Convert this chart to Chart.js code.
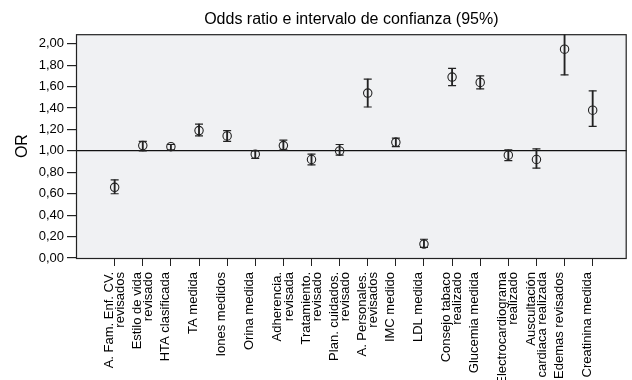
<!DOCTYPE html>
<html lang="es">

<head>
    <meta charset="UTF-8">
    <title>Odds ratio</title>
    <style>
        body { margin: 0; background: #fff; }
    </style>
</head>

<body>
    <canvas id="grafico" width="632" height="380"></canvas>
    <script src="https://cdn.jsdelivr.net/npm/chart.js"></script>
    <script>
        // datos
        const categorias = [
            ['A. Fam. Enf. CV.', 'revisados'],
            ['Estilo de vida', 'revisado'],
            'HTA clasificada',
            'TA medida',
            'Iones medidos',
            'Orina medida',
            ['Adherencia.', 'revisada'],
            ['Tratamiento.', 'revisado'],
            ['Plan. cuidados.', 'revisado'],
            ['A. Personales.', 'revisados'],
            'IMC medido',
            'LDL medida',
            ['Consejo tabaco', 'realizado'],
            'Glucemia medida',
            ['Electrocardiograma', 'realizado'],
            ['Auscultación', 'cardiaca realizada'],
            'Edemas revisados',
            'Creatinina medida'
        ];
        const oddsRatio = [0.66, 1.05, 1.04, 1.19, 1.14, 0.97, 1.05, 0.92, 1.00, 1.54, 1.08, 0.13, 1.69, 1.64, 0.96, 0.92, 1.95, 1.38];
        const icInferior = [0.60, 1.00, 1.01, 1.14, 1.09, 0.93, 1.01, 0.87, 0.96, 1.41, 1.04, 0.10, 1.61, 1.58, 0.91, 0.84, 1.71, 1.23];
        const icSuperior = [0.73, 1.09, 1.06, 1.25, 1.19, 1.00, 1.10, 0.97, 1.06, 1.67, 1.12, 0.175, 1.77, 1.70, 1.01, 1.02, 2.23, 1.56];
        const ticksY = [0, 0.2, 0.4, 0.6, 0.8, 1.0, 1.2, 1.4, 1.6, 1.8, 2.0];

        const colorLinea = '#222';

        // fondo gris y marco del area de trazado
        const marco = {
            id: 'marco',
            beforeDraw(chart) {
                const a = chart.chartArea;
                const c = chart.ctx;
                c.save();
                c.fillStyle = '#f0f1f3';
                c.fillRect(a.left, a.top, a.right - a.left, a.bottom - a.top);
                c.restore();
            },
            afterDraw(chart) {
                const a = chart.chartArea;
                const c = chart.ctx;
                c.save();
                c.strokeStyle = colorLinea;
                c.lineWidth = 1.2;
                c.strokeRect(a.left + 0.5, a.top + 0.5, a.right - a.left - 1, a.bottom - a.top);
                c.restore();
            }
        };

        const puntos = (vals) => vals.map((v, i) => ({ x: i, y: v }));

        Chart.defaults.font.family = "'Liberation Sans', Arial, sans-serif";
        Chart.defaults.color = '#000';

        const ctx = document.getElementById('grafico');
        const miGrafico = new Chart(ctx, {
            type: 'scatter',
            data: {
                datasets: [{
                    type: 'bar',
                    data: oddsRatio.map((v, i) => ({ x: i, y: [icInferior[i], icSuperior[i]] })),
                    backgroundColor: colorLinea,
                    barThickness: 1.2,
                    order: 3
                }, {
                    data: puntos(icInferior),
                    pointStyle: 'line',
                    radius: 4,
                    borderWidth: 1.2,
                    borderColor: colorLinea,
                    order: 2
                }, {
                    data: puntos(icSuperior),
                    pointStyle: 'line',
                    radius: 4,
                    borderWidth: 1.2,
                    borderColor: colorLinea,
                    order: 2
                }, {
                    data: puntos(oddsRatio),
                    pointStyle: 'circle',
                    radius: 4.2,
                    borderWidth: 1.1,
                    borderColor: colorLinea,
                    backgroundColor: 'rgba(0,0,0,0)',
                    order: 1
                }]
            },
            options: {
                responsive: false,
                animation: false,
                devicePixelRatio: 1,
                layout: { padding: { left: 0, right: 1, top: 0, bottom: 0 } },
                plugins: {
                    legend: { display: false },
                    tooltip: { enabled: false },
                    title: {
                        display: true,
                        text: 'Odds ratio e intervalo de confianza (95%)',
                        fullSize: false,
                        color: '#000',
                        font: { size: 16, weight: 'normal' },
                        padding: { top: 10, bottom: 5 }
                    }
                },
                scales: {
                    x: {
                        type: 'linear',
                        offset: false,
                        min: -1.375,
                        max: 18.21,
                        afterBuildTicks: (s) => { s.ticks = categorias.map((c, i) => ({ value: i })); },
                        afterFit: (s) => { s.height = 122; },
                        border: { display: false },
                        grid: {
                            offset: false,
                            drawOnChartArea: false,
                            tickLength: 8,
                            tickColor: colorLinea
                        },
                        ticks: {
                            autoSkip: false,
                            minRotation: 90,
                            maxRotation: 90,
                            padding: 6,
                            labelOffset: -5.5,
                            color: '#000',
                            font: { size: 13, lineHeight: 0.85 },
                            callback: (v) => categorias[v]
                        }
                    },
                    y: {
                        min: 0,
                        max: 2.09,
                        afterBuildTicks: (s) => { s.ticks = ticksY.map(v => ({ value: v })); },
                        afterFit: (s) => { s.width = 76; },
                        border: { display: false },
                        grid: {
                            color: (c) => (c.tick && c.tick.value === 1.0) ? '#111' : 'rgba(0,0,0,0)',
                            lineWidth: 1.2,
                            tickLength: 9,
                            tickColor: colorLinea
                        },
                        ticks: {
                            padding: 3,
                            color: '#000',
                            font: { size: 13 },
                            callback: (v) => v.toFixed(2).replace('.', ',')
                        },
                        title: {
                            display: true,
                            text: 'OR',
                            color: '#000',
                            font: { size: 16 },
                            padding: { top: 13, bottom: 0 }
                        }
                    }
                }
            },
            plugins: [marco]
        });
    </script>
</body>

</html>
